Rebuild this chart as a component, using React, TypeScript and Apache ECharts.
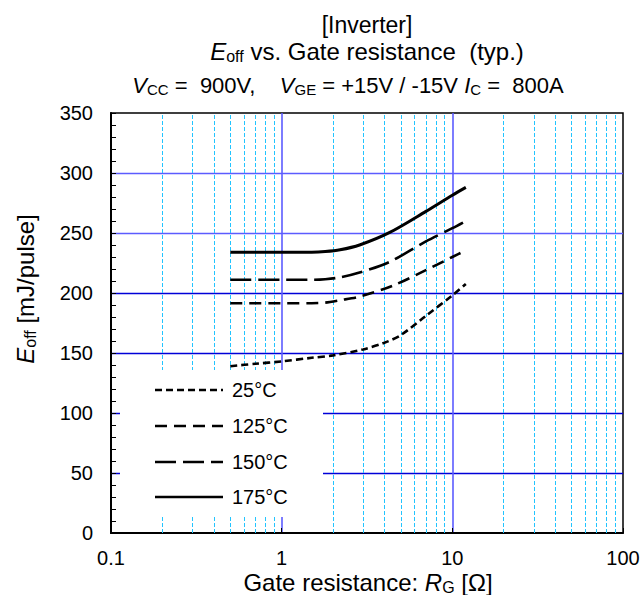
import React, { useEffect, useRef } from 'react';
import * as echarts from 'echarts';

const FONT = '"Liberation Sans", Arial, Helvetica, sans-serif';

// Tick / grid values
const yTicks = [0, 50, 100, 150, 200, 250, 300, 350];
const minorX = [0.2, 0.3, 0.4, 0.5, 0.6, 0.7, 0.8, 0.9, 2, 3, 4, 5, 6, 7, 8, 9, 20, 30, 40, 50, 60, 70, 80, 90];

// Series data: Gate resistance RG [Ω] -> Eoff [mJ/pulse]
const rg25 = [0.5, 0.7, 1, 1.5, 2, 3, 4, 5, 7, 10, 12];
const e25 = [139, 141, 143, 146, 148, 153, 158.5, 165, 181, 198, 207.5];

const rg125 = [0.5, 1, 1.5, 1.8, 2.2, 2.86, 4.46, 7, 10, 12];
const e125 = [191.5, 191.5, 191.5, 192, 194, 197, 206, 219, 230, 235.5];

const rg150 = [0.5, 1, 1.5, 1.8, 2.2, 2.86, 4.3, 7, 10, 12];
const e150 = [211, 211, 211, 211.5, 213, 217, 226, 243, 254, 260];

const rg175 = [0.5, 1, 1.5, 1.8, 2.2, 2.86, 4.3, 7, 10, 12];
const e175 = [234, 234, 234, 234.5, 236, 240, 250.5, 268, 281.5, 288];

const seriesNames = ['25°C', '125°C', '150°C', '175°C'];
const seriesDash: (number[] | 'solid')[] = [[7, 4], [12, 7], [21, 7], 'solid'];

const pairs = (xs: number[], ys: number[]) => xs.map((x, i) => [x, ys[i]]);
const seriesData = [pairs(rg25, e25), pairs(rg125, e125), pairs(rg150, e150), pairs(rg175, e175)];

const richBase = (size: number, sub: number, lh: number) => ({
  n: { fontSize: size, fontFamily: FONT, color: '#000', lineHeight: lh },
  i: { fontSize: size, fontFamily: FONT, color: '#000', fontStyle: 'italic', lineHeight: lh },
  s: { fontSize: sub, fontFamily: FONT, color: '#000', verticalAlign: 'bottom', lineHeight: 10 },
});

const legendY = [390, 426, 462, 497];

const centered = { align: 'center', verticalAlign: 'middle', textAlign: 'center', textVerticalAlign: 'middle' };

function buildOption() {
  const graphics: any[] = [
    {
      type: 'text', x: 367, y: 25, z: 10,
      style: { text: '[Inverter]', font: `23px ${FONT}`, fill: '#000', ...centered },
    },
    {
      type: 'text', x: 367, y: 51, z: 10,
      style: { text: '{i|E}{s|off}{n| vs. Gate resistance  (typ.)}', rich: richBase(24, 16, 26), ...centered },
    },
    {
      type: 'text', x: 348, y: 85, z: 10,
      style: {
        text: '{i|V}{s|CC}{n| =  900V,    }{i|V}{s|GE}{n| = +15V / -15V }{i|I}{s|C}{n| =  800A}',
        rich: richBase(22, 15, 24),
        ...centered,
      },
    },
    {
      // y-axis title
      type: 'text', x: 25, y: 289, rotation: Math.PI / 2, z: 10,
      style: { text: '{i|E}{s|off}{n| [mJ/pulse]}', rich: richBase(24, 16, 26), ...centered },
    },
    {
      // x-axis title
      type: 'text', x: 368, y: 582, z: 10,
      style: { text: '{n|Gate resistance: }{i|R}{s|G}{n| [Ω]}', rich: richBase(24, 16, 26), ...centered },
    },
    {
      type: 'rect', z: 2, silent: true,
      shape: { x: 120, y: 370, width: 203, height: 147 },
      style: { fill: '#fff', stroke: null },
    },
  ];
  seriesNames.forEach((nm, k) => {
    const dash = seriesDash[k];
    graphics.push({
      type: 'line', z: 10, silent: true,
      shape: { x1: 155, y1: legendY[k], x2: 223, y2: legendY[k] },
      style: { stroke: '#000', lineWidth: 2.6, lineDash: dash === 'solid' ? null : dash },
    });
    graphics.push({
      type: 'text', x: 232, y: legendY[k], z: 10,
      style: { text: nm, font: `20px ${FONT}`, fill: '#000', align: 'left', verticalAlign: 'middle', textAlign: 'left', textVerticalAlign: 'middle' },
    });
  });

  const curveSeries = seriesNames.map((nm, k) => ({
    name: nm,
    type: 'line',
    data: seriesData[k],
    smooth: 0.3,
    showSymbol: false,
    symbol: 'none',
    z: 3,
    lineStyle: { color: '#000', width: k === 3 ? 3 : 2.6, type: seriesDash[k] },
  }));

  return {
    animation: false,
    backgroundColor: '#fff',
    textStyle: { fontFamily: FONT },
    grid: { left: 111, right: 20, top: 113, bottom: 62, show: true, borderColor: '#000', borderWidth: 1.5, backgroundColor: 'transparent' },
    xAxis: {
      type: 'log', logBase: 10, min: 0.1, max: 100,
      axisLine: { show: true, lineStyle: { color: '#000', width: 2 } },
      axisTick: { show: true, inside: true, length: 5, lineStyle: { color: '#000', width: 1 } },
      axisLabel: { fontSize: 20, color: '#000', margin: 15, fontFamily: FONT },
      splitLine: { show: true, showMinLine: false, showMaxLine: false, lineStyle: { color: '#5c5cff', width: 1.6 } },
    },
    yAxis: {
      type: 'value', min: 0, max: 350, interval: 50,
      axisLine: { show: true, lineStyle: { color: '#000', width: 2 } },
      axisTick: { show: true, inside: true, length: 5, lineStyle: { color: '#000', width: 1 } },
      minorTick: { show: true, splitNumber: 5, length: 5, lineStyle: { color: '#000', width: 1 } },
      axisLabel: { fontSize: 20, color: '#000', margin: 18, fontFamily: FONT },
      splitLine: {
        show: true, showMinLine: false, showMaxLine: false,
        lineStyle: { color: ['#0000d8', '#0000d8', '#0000d8', '#0000d8', '#5c5cff', '#5c5cff'], width: 1.4 },
      },
      data: yTicks,
    },
    graphic: graphics,
    series: [
      {
        type: 'line', data: [], z: 1, silent: true,
        markLine: {
          z: 1, silent: true, symbol: ['none', 'none'], label: { show: false },
          lineStyle: { color: '#22c4ff', type: [4, 2], width: 1, opacity: 1 },
          emphasis: { disabled: true },
          data: minorX.map((v) => ({ xAxis: v })),
        },
      },
      ...curveSeries,
    ],
  };
}

export default function App() {
  const ref = useRef<HTMLDivElement>(null);
  useEffect(() => {
    const chart = echarts.init(ref.current!, null, { renderer: 'svg' });
    chart.setOption(buildOption() as any);
    return () => chart.dispose();
  }, []);
  return <div ref={ref} style={{ position: 'fixed', left: 0, top: 0, width: 643, height: 595 }} />;
}
